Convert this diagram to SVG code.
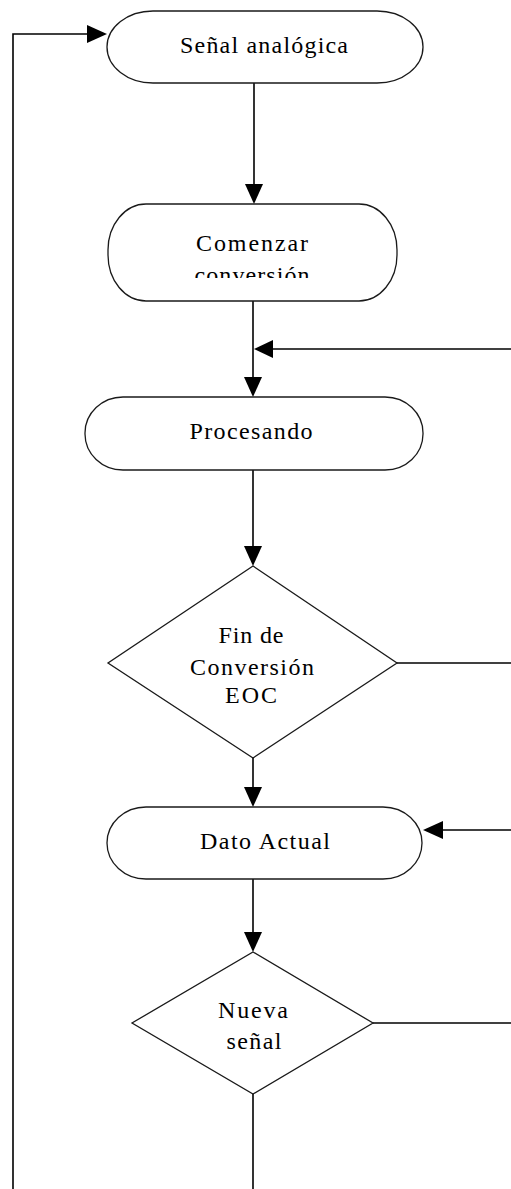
<svg xmlns="http://www.w3.org/2000/svg" width="511" height="1189" viewBox="0 0 511 1189">
<style>
.shape{fill:#fff;stroke:#1a1a1a;stroke-width:1.3}
.line{fill:none;stroke:#000;stroke-width:1.6}
.head{fill:#000;stroke:none}
.lbl{font-family:"Liberation Serif","Times New Roman",serif;font-size:24px;fill:#000;text-anchor:middle}
</style>
<defs>
<clipPath id="clipConv"><rect x="100" y="200" width="300" height="78"/></clipPath>
</defs>
<g id="connectors">
<path class="line" d="M254,83 V186"/>
<polygon class="head" points="254,204 245,184 263,184"/>
<path class="line" d="M253,301 V379"/>
<polygon class="head" points="253,397 244,377 262,377"/>
<path class="line" d="M511,349 H272"/>
<polygon class="head" points="254,349 273,340 273,358"/>
<path class="line" d="M253,470 V548"/>
<polygon class="head" points="253,566 244,546 262,546"/>
<path class="line" d="M397,663 H511"/>
<path class="line" d="M253,758 V789"/>
<polygon class="head" points="253,807 244,787 262,787"/>
<path class="line" d="M511,830 H441"/>
<polygon class="head" points="423,830 443,821 443,839"/>
<path class="line" d="M253,879 V934"/>
<polygon class="head" points="253,952 244,932 262,932"/>
<path class="line" d="M373,1023 H511"/>
<path class="line" d="M253,1094 V1189"/>
<path class="line" d="M13,1189 V34 H89"/>
<polygon class="head" points="107,34 87,25 87,43"/>
</g>
<g id="node-senal">
<rect class="shape" x="107" y="11" width="316" height="72" rx="46" ry="36"/>
<text class="lbl" x="264" y="53" textLength="168" lengthAdjust="spacing">Señal analógica</text>
</g>
<g id="node-comenzar">
<rect class="shape" x="108" y="204" width="289" height="97" rx="38" ry="46"/>
<text class="lbl" x="252" y="251" textLength="112" lengthAdjust="spacing">Comenzar</text>
<text class="lbl" x="252" y="283" textLength="115" lengthAdjust="spacing" clip-path="url(#clipConv)">conversión</text>
</g>
<g id="node-procesando">
<rect class="shape" x="85" y="397" width="338" height="73" rx="38" ry="36"/>
<text class="lbl" x="251" y="439" textLength="123" lengthAdjust="spacing">Procesando</text>
</g>
<g id="node-fin">
<polygon class="shape" points="253,566 397,663 253,758 108,663"/>
<text class="lbl" x="251" y="643" textLength="65" lengthAdjust="spacing">Fin de</text>
<text class="lbl" x="252" y="675" textLength="124" lengthAdjust="spacing">Conversión</text>
<text class="lbl" x="251" y="703" textLength="52" lengthAdjust="spacing">EOC</text>
</g>
<g id="node-dato">
<rect class="shape" x="107" y="807" width="315" height="72" rx="39" ry="36"/>
<text class="lbl" x="265" y="849" textLength="130" lengthAdjust="spacing">Dato Actual</text>
</g>
<g id="node-nueva">
<polygon class="shape" points="253,952 373,1023 253,1094 132,1023"/>
<text class="lbl" x="253" y="1018" textLength="70" lengthAdjust="spacing">Nueva</text>
<text class="lbl" x="254" y="1049" textLength="55" lengthAdjust="spacing">señal</text>
</g>
</svg>
